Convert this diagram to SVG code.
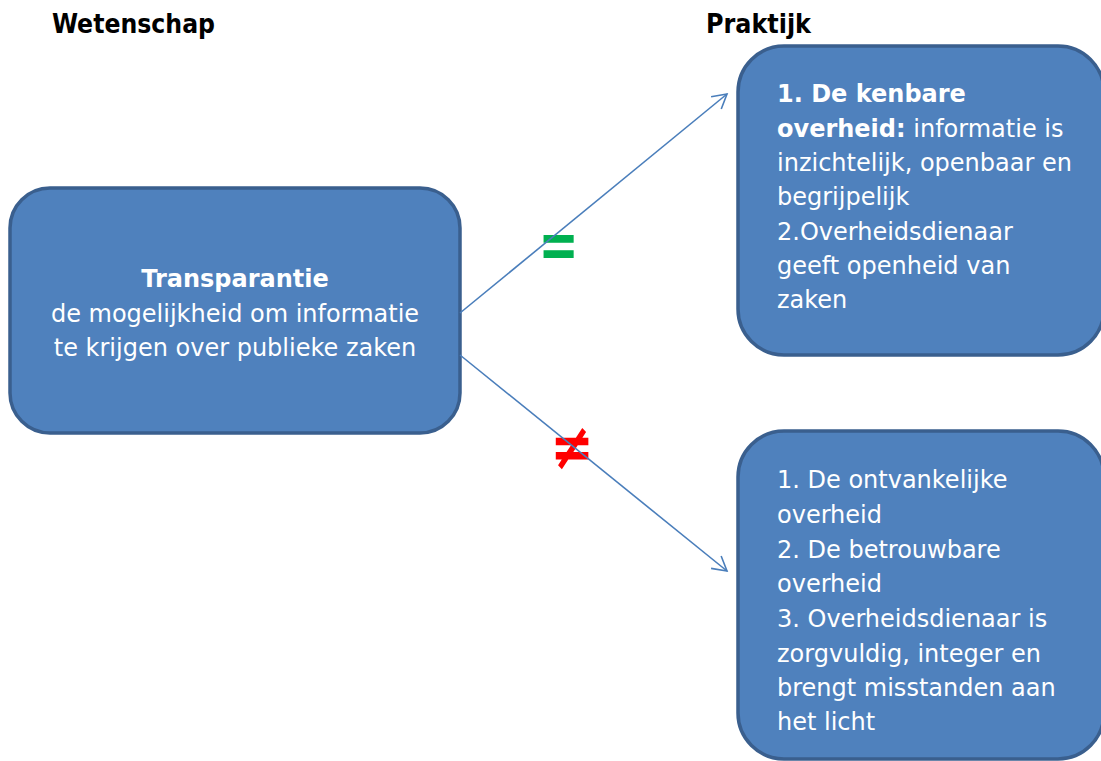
<svg xmlns="http://www.w3.org/2000/svg" width="1101" height="761" viewBox="0 0 1101 761">
<defs>
<style>
.box{fill:#4F81BD;stroke:#3A5F8E;stroke-width:3.5}
.t{font-family:"DejaVu Sans","Verdana",sans-serif;font-size:24px;fill:#FFFFFF}
.c{text-anchor:middle}
.b{font-weight:bold}
.hdr{font-family:"DejaVu Sans Condensed","DejaVu Sans",sans-serif;font-weight:bold;font-size:26px;fill:#000000}
.conn{stroke:#4A7EBB;stroke-width:1.6;fill:none}
.sym{font-family:"DejaVu Sans",sans-serif;font-weight:bold;text-anchor:middle}
</style>
<marker id="arr" viewBox="0 0 20 20" refX="18" refY="10" markerWidth="20" markerHeight="20" markerUnits="userSpaceOnUse" orient="auto">
<path d="M4 2 L18 10 L4 18" fill="none" stroke="#4A7EBB" stroke-width="1.6"/>
</marker>
</defs>
<rect width="1101" height="761" fill="#FFFFFF"/>
<g id="headers">
<text class="hdr" x="52" y="33" textLength="163" lengthAdjust="spacingAndGlyphs">Wetenschap</text>
<text class="hdr" x="706" y="33" textLength="105" lengthAdjust="spacingAndGlyphs">Praktijk</text>
</g>
<g id="node-transparantie">
<rect class="box" x="10" y="188" width="450" height="245" rx="40" ry="40"/>
<text class="t c b" x="235" y="287">Transparantie</text>
<text class="t c" x="235" y="322">de mogelijkheid om informatie</text>
<text class="t c" x="235" y="356">te krijgen over publieke zaken</text>
</g>
<g id="node-kenbare">
<rect class="box" x="738" y="46" width="366" height="309" rx="46" ry="46"/>
<text class="t b" x="777" y="102">1. De kenbare</text>
<text class="t" x="777" y="137"><tspan class="b">overheid:</tspan> informatie is</text>
<text class="t" x="777" y="171">inzichtelijk, openbaar en</text>
<text class="t" x="777" y="205">begrijpelijk</text>
<text class="t" x="777" y="240">2.Overheidsdienaar</text>
<text class="t" x="777" y="274">geeft openheid van</text>
<text class="t" x="777" y="308">zaken</text>
</g>
<g id="node-ontvankelijke">
<rect class="box" x="738" y="431" width="366" height="328" rx="46" ry="46"/>
<text class="t" x="777" y="488">1. De ontvankelijke</text>
<text class="t" x="777" y="523">overheid</text>
<text class="t" x="777" y="558">2. De betrouwbare</text>
<text class="t" x="777" y="592">overheid</text>
<text class="t" x="777" y="627">3. Overheidsdienaar is</text>
<text class="t" x="777" y="662">zorgvuldig, integer en</text>
<text class="t" x="777" y="696">brengt misstanden aan</text>
<text class="t" x="777" y="730">het licht</text>
</g>
<g id="label-equal">
<text class="sym" font-size="48" fill="#00B050" transform="translate(558.5,268) scale(1,1.4)" x="0" y="0">=</text>
</g>
<g id="label-notequal">
<text class="sym" font-size="52" fill="#FF0000" transform="translate(572,469) scale(1,1.25)" x="0" y="0">≠</text>
</g>
<g id="connectors">
<line class="conn" x1="460" y1="313" x2="727" y2="94" marker-end="url(#arr)"/>
<line class="conn" x1="460" y1="355" x2="727" y2="571" marker-end="url(#arr)"/>
</g>
</svg>
